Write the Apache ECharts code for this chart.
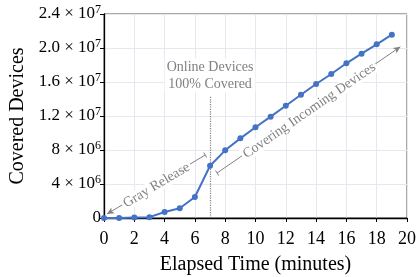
<!DOCTYPE html>
<html>
<head>
<meta charset="utf-8">
<script src="https://cdn.jsdelivr.net/npm/echarts@6/dist/echarts.min.js"></script>
<style>
  html, body { margin: 0; padding: 0; background: #fff; }
  #chart { width: 419px; height: 277px; }
</style>
</head>
<body>
<div id="chart"></div>
<script>
// elapsed minutes and covered devices (millions)
const minutes = [0, 1, 2, 3, 4, 5, 6, 7, 8, 9, 10, 11, 12, 13, 14, 15, 16, 17, 18, 19];
const coveredM = [0, 0, 0.05, 0.1, 0.7, 1.14, 2.47, 6.15, 7.96, 9.37, 10.67, 11.92, 13.2, 14.5, 15.76, 16.94, 18.2, 19.33, 20.43, 21.57];

// y tick labels: mantissa and power of ten, bottom to top
const yMantissa = ['0', '4', '8', '1.2', '1.6', '2.0', '2.4'];
const yExponent = ['', '6', '6', '7', '7', '7', '7'];

// annotation anchors, in data units (minutes, devices)
const grayRelease = [[0.2, 0.47e6], [6.68, 7.41e6]];
const covering = [[7.47, 5.3e6], [19.56, 20.15e6]];
const onlineLine = [[7, 0], [7, 14.3e6]];

const serif = '"Liberation Serif", "Times New Roman", serif';
const annoGray = '#808080';
const barCap = 'path://M0,4.3L10,4.3L10,5.7L0,5.7Z M0,0L0.01,0 M0,10L0.01,10';

function sciLabel(v) {
    const i = Math.round(v / 4e6);
    if (!yExponent[i]) return '{b|' + yMantissa[i] + '}';
    return '{b|' + yMantissa[i] + ' × 10}{s|' + yExponent[i] + '}';
}

const chart = echarts.init(document.getElementById('chart'), null, { renderer: 'canvas' });

const option = {
    animation: false,
    textStyle: { fontFamily: serif },
    grid: {
        left: 104, right: 12, top: 14, bottom: 59,
        containLabel: false, outerBoundsMode: 'none',
        show: true, borderColor: '#555', borderWidth: 1
    },
    xAxis: {
        type: 'value', min: 0, max: 20, interval: 2,
        name: 'Elapsed Time (minutes)', nameLocation: 'middle', nameGap: 37,
        nameTextStyle: { fontFamily: serif, fontSize: 20, color: '#000' },
        axisLine: { show: true, lineStyle: { color: '#000', width: 1.3 } },
        axisTick: { show: true, length: 4, lineStyle: { color: '#000' } },
        axisLabel: { fontFamily: serif, fontSize: 18, color: '#000', margin: 12 },
        splitLine: { show: true, lineStyle: { color: '#e6e8f0', width: 1 } }
    },
    yAxis: {
        type: 'value', min: 0, max: 2.4e7, interval: 4e6,
        name: 'Covered Devices', nameLocation: 'middle', nameGap: 68,
        nameTextStyle: { fontFamily: serif, fontSize: 20, color: '#000' },
        axisLine: { show: true, lineStyle: { color: '#000', width: 1.3 } },
        axisTick: { show: true, length: 4, lineStyle: { color: '#000' } },
        axisLabel: {
            margin: 3,
            formatter: sciLabel,
            rich: {
                b: { fontFamily: serif, fontSize: 17, color: '#000' },
                s: { fontFamily: serif, fontSize: 12, color: '#000', padding: [0, 0, 8, 0] }
            }
        },
        splitLine: { show: true, lineStyle: { color: '#e6e8f0', width: 1 } }
    },
    series: [{
        type: 'line',
        data: minutes.map((m, i) => [m, coveredM[i] * 1e6]),
        symbol: 'circle',
        symbolSize: 6,
        itemStyle: { color: '#4472c4' },
        lineStyle: { color: '#4472c4', width: 2 },
        z: 5,
        markLine: {
            silent: true,
            animation: false,
            precision: 10,
            data: [
                [
                    { coord: onlineLine[0], symbol: 'none',
                      lineStyle: { color: annoGray, type: 'dotted', width: 1.2 },
                      label: {
                          show: true, position: 'end', distance: 4,
                          formatter: 'Online Devices\n100% Covered',
                          fontFamily: serif, fontSize: 14, lineHeight: 17, color: annoGray,
                          backgroundColor: '#fff', padding: [0, 2]
                      } },
                    { coord: onlineLine[1], symbol: 'none' }
                ],
                [
                    { coord: grayRelease[0], symbol: 'arrow', symbolSize: [5, 7],
                      lineStyle: { color: annoGray, type: 'solid', width: 1 },
                      label: {
                          show: true, position: 'middle', distance: -8,
                          formatter: 'Gray Release',
                          fontFamily: serif, fontSize: 14, color: annoGray,
                          backgroundColor: '#fff', padding: [0, 2]
                      } },
                    { coord: grayRelease[1], symbol: barCap, symbolSize: 6 }
                ],
                [
                    { coord: covering[0], symbol: barCap, symbolSize: 6,
                      lineStyle: { color: annoGray, type: 'solid', width: 1 },
                      label: {
                          show: true, position: 'middle', distance: -8,
                          formatter: 'Covering Incoming Devices',
                          fontFamily: serif, fontSize: 14, color: annoGray,
                          backgroundColor: '#fff', padding: [0, 2]
                      } },
                    { coord: covering[1], symbol: 'arrow', symbolSize: [5, 7] }
                ]
            ]
        }
    }]
};

chart.setOption(option);
</script>
</body>
</html>
